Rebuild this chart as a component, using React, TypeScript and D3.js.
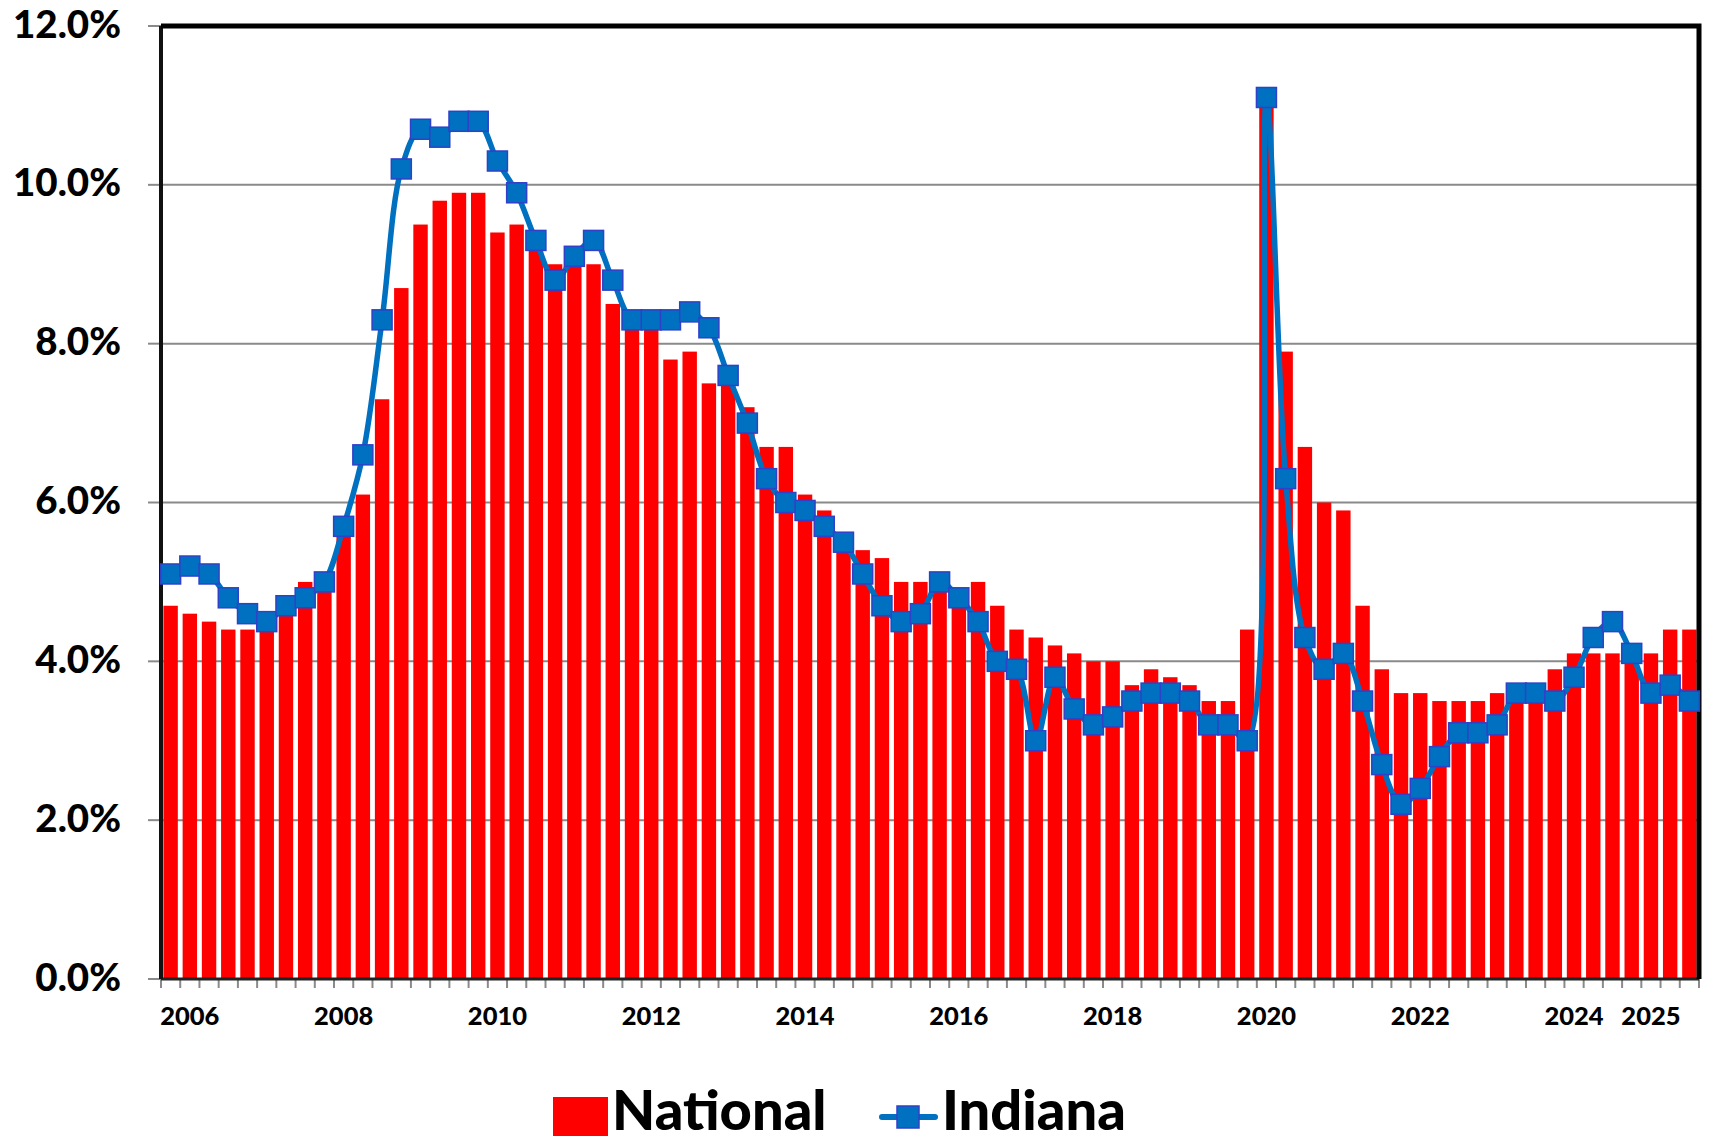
import React, { useEffect, useRef } from "react";
import * as d3 from "d3";

// quarterly series, first bar is 2005 Q4, last is 2025 Q3
const startYear = 2005;
const startQuarter = 4;

const national: number[] = [
  4.7, 4.6, 4.5, 4.4, 4.4, 4.4, 4.6, 5.0, 5.0, 5.6,
  6.1, 7.3, 8.7, 9.5, 9.8, 9.9, 9.9, 9.4, 9.5, 9.3,
  9.0, 9.0, 9.0, 8.5, 8.3, 8.2, 7.8, 7.9, 7.5, 7.5,
  7.2, 6.7, 6.7, 6.1, 5.9, 5.6, 5.4, 5.3, 5.0, 5.0,
  5.0, 4.9, 5.0, 4.7, 4.4, 4.3, 4.2, 4.1, 4.0, 4.0,
  3.7, 3.9, 3.8, 3.7, 3.5, 3.5, 4.4, 11.0, 7.9, 6.7,
  6.0, 5.9, 4.7, 3.9, 3.6, 3.6, 3.5, 3.5, 3.5, 3.6,
  3.6, 3.6, 3.9, 4.1, 4.1, 4.1, 4.1, 4.1, 4.4, 4.4,
];

const indiana: number[] = [
  5.1, 5.2, 5.1, 4.8, 4.6, 4.5, 4.7, 4.8, 5.0, 5.7,
  6.6, 8.3, 10.2, 10.7, 10.6, 10.8, 10.8, 10.3, 9.9, 9.3,
  8.8, 9.1, 9.3, 8.8, 8.3, 8.3, 8.3, 8.4, 8.2, 7.6,
  7.0, 6.3, 6.0, 5.9, 5.7, 5.5, 5.1, 4.7, 4.5, 4.6,
  5.0, 4.8, 4.5, 4.0, 3.9, 3.0, 3.8, 3.4, 3.2, 3.3,
  3.5, 3.6, 3.6, 3.5, 3.2, 3.2, 3.0, 11.1, 6.3, 4.3,
  3.9, 4.1, 3.5, 2.7, 2.2, 2.4, 2.8, 3.1, 3.1, 3.2,
  3.6, 3.6, 3.5, 3.8, 4.3, 4.5, 4.1, 3.6, 3.7, 3.5,
];

// year labels sit under the first quarter of the year
const yearLabels: string[] = [
  "2006", "2008", "2010", "2012", "2014", "2016",
  "2018", "2020", "2022", "2024", "2025",
];

const yTicks: number[] = [0, 2, 4, 6, 8, 10, 12];

const quarters: string[] = national.map((_, i) => {
  const q = startQuarter - 1 + i;
  return `${startYear + Math.floor(q / 4)} Q${(q % 4) + 1}`;
});

const FONT = "Lato, 'Open Sans', 'DejaVu Sans', sans-serif";

const App: React.FC = () => {
  const svgRef = useRef<SVGSVGElement | null>(null);

  useEffect(() => {
    if (!svgRef.current) return;

    const width = 1716;
    const height = 1141;
    const margin = { top: 26, right: 17, bottom: 162, left: 161 };

    const svg = d3.select(svgRef.current);
    svg.selectAll("*").remove();

    svg
      .append("rect")
      .attr("width", width)
      .attr("height", height)
      .attr("fill", "white");

    const x = d3
      .scaleBand<string>()
      .domain(quarters)
      .range([margin.left, width - margin.right])
      .paddingInner(0.25)
      .paddingOuter(0.125);

    const y = d3
      .scaleLinear()
      .domain([0, 12])
      .range([height - margin.bottom, margin.top]);

    const x0 = margin.left;
    const x1 = width - margin.right;
    const cx = (c: string) => (x(c) || 0) + x.bandwidth() / 2;

    // gridlines
    svg
      .append("g")
      .selectAll("line")
      .data(yTicks.filter((t) => t > 0 && t < 12))
      .join("line")
      .attr("x1", x0)
      .attr("x2", x1)
      .attr("y1", (d) => y(d))
      .attr("y2", (d) => y(d))
      .attr("stroke", "#8a8a8a")
      .attr("stroke-width", 2);

    // y tick marks
    svg
      .append("g")
      .selectAll("line")
      .data(yTicks)
      .join("line")
      .attr("x1", x0 - 13)
      .attr("x2", x0)
      .attr("y1", (d) => y(d))
      .attr("y2", (d) => y(d))
      .attr("stroke", "#8a8a8a")
      .attr("stroke-width", 2);

    // y labels
    svg
      .append("g")
      .selectAll("text")
      .data(yTicks)
      .join("text")
      .attr("x", 121)
      .attr("y", (d) => y(d) + 11.5)
      .attr("text-anchor", "end")
      .attr("font-family", FONT)
      .attr("font-weight", 900)
      .attr("font-size", 38.5)
      .attr("fill", "black")
      .text((d) => `${d.toFixed(1)}%`);

    // bars
    svg
      .append("g")
      .selectAll("rect")
      .data(national)
      .join("rect")
      .attr("x", (_, i) => x(quarters[i]) || 0)
      .attr("y", (d) => y(d))
      .attr("width", x.bandwidth())
      .attr("height", (d) => y(0) - y(d))
      .attr("fill", "#ff0000");

    // x tick marks at category boundaries
    const step = x.step();
    const bounds = d3.range(quarters.length + 1).map((i) => x0 + i * step);
    svg
      .append("g")
      .selectAll("line")
      .data(bounds)
      .join("line")
      .attr("x1", (d) => d)
      .attr("x2", (d) => d)
      .attr("y1", y(0))
      .attr("y2", y(0) + 9)
      .attr("stroke", "#8a8a8a")
      .attr("stroke-width", 2);

    // axes and frame
    svg
      .append("line")
      .attr("x1", x0)
      .attr("x2", x1)
      .attr("y1", y(0))
      .attr("y2", y(0))
      .attr("stroke", "#222")
      .attr("stroke-width", 3);

    svg
      .append("line")
      .attr("x1", x0)
      .attr("x2", x0)
      .attr("y1", y(12))
      .attr("y2", y(0))
      .attr("stroke", "#111")
      .attr("stroke-width", 4);

    svg
      .append("path")
      .attr("d", `M${x0},${y(12)}H${x1}V${y(0)}`)
      .attr("fill", "none")
      .attr("stroke", "black")
      .attr("stroke-width", 5)
      .attr("stroke-linejoin", "miter");

    // x labels
    svg
      .append("g")
      .selectAll("text")
      .data(yearLabels)
      .join("text")
      .attr("x", (d) => cx(`${d} Q1`))
      .attr("y", 1025)
      .attr("text-anchor", "middle")
      .attr("font-family", FONT)
      .attr("font-weight", 900)
      .attr("font-size", 25.5)
      .attr("fill", "black")
      .text((d) => d);

    // Indiana line
    const line = d3
      .line<number>()
      .x((_, i) => cx(quarters[i]))
      .y((d) => y(d))
      .curve(d3.curveCatmullRom.alpha(0.5));

    svg
      .append("path")
      .datum(indiana)
      .attr("d", line)
      .attr("fill", "none")
      .attr("stroke", "#0070c0")
      .attr("stroke-width", 5.5)
      .attr("stroke-linejoin", "round");

    const ms = 20;
    svg
      .append("g")
      .selectAll("rect")
      .data(indiana)
      .join("rect")
      .attr("x", (_, i) => cx(quarters[i]) - ms / 2)
      .attr("y", (d) => y(d) - ms / 2)
      .attr("width", ms)
      .attr("height", ms)
      .attr("fill", "#0070c0")
      .attr("stroke", "#3040c8")
      .attr("stroke-width", 1.5);

    // legend
    const legend = svg.append("g");

    legend
      .append("rect")
      .attr("x", 553)
      .attr("y", 1097)
      .attr("width", 55)
      .attr("height", 39)
      .attr("fill", "#ff0000");

    legend
      .append("text")
      .attr("x", 612)
      .attr("y", 1130)
      .attr("font-family", FONT)
      .attr("font-weight", 900)
      .attr("font-size", 56)
      .attr("fill", "black")
      .text("National");

    legend
      .append("line")
      .attr("x1", 882)
      .attr("x2", 935)
      .attr("y1", 1117)
      .attr("y2", 1117)
      .attr("stroke", "#0070c0")
      .attr("stroke-width", 6)
      .attr("stroke-linecap", "round");

    legend
      .append("rect")
      .attr("x", 897)
      .attr("y", 1106)
      .attr("width", 22)
      .attr("height", 22)
      .attr("fill", "#0070c0")
      .attr("stroke", "#3040c8")
      .attr("stroke-width", 1.5);

    legend
      .append("text")
      .attr("x", 942)
      .attr("y", 1130)
      .attr("font-family", FONT)
      .attr("font-weight", 900)
      .attr("font-size", 56)
      .attr("fill", "black")
      .text("Indiana");
  }, []);

  return (
    <svg
      ref={svgRef}
      width={1716}
      height={1141}
      style={{ position: "absolute", left: 0, top: 0, display: "block" }}
    ></svg>
  );
};

export default App;
